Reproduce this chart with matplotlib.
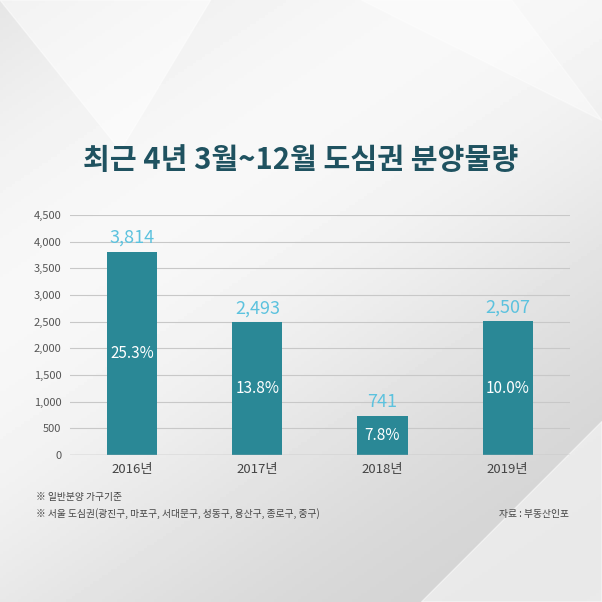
import matplotlib
matplotlib.use("Agg")
import matplotlib.pyplot as plt
import numpy as np

plt.rcParams['font.family'] = ['Noto Sans CJK KR', 'DejaVu Sans']

years = ["2016년", "2017년", "2018년", "2019년"]
values = [3814, 2493, 741, 2507]
shares = ["25.3%", "13.8%", "7.8%", "10.0%"]
yticks = [0, 500, 1000, 1500, 2000, 2500, 3000, 3500, 4000, 4500]

fig = plt.figure(figsize=(6.02, 6.02), dpi=100)
# background
bg = fig.add_axes([0, 0, 1, 1], zorder=-10)
g = np.linspace(0, 1, 200)
img = 0.90 + 0.07 * np.sin(np.add.outer(g * 3, g * 2))
bg.imshow(img, cmap='gray', vmin=0, vmax=1, extent=[0, 1, 0, 1], aspect='auto')
bg.fill([0, 0.35, 0.2], [1, 1, 0.75], color='white', alpha=0.5)
bg.fill([0.7, 1, 1], [0, 0.3, 0], color='white', alpha=0.5)
bg.fill([0.6, 1, 0.85], [1, 0.8, 1], color='white', alpha=0.4)
bg.set_xlim(0, 1); bg.set_ylim(0, 1); bg.axis('off')

ax = fig.add_axes([0.116, 0.244, 0.831, 0.399])
ax.set_facecolor('none')
x = np.arange(len(years))
ax.bar(x, values, width=0.4, color='#2a8896', zorder=3)
ax.set_ylim(0, 4500)
ax.set_xlim(-0.5, 3.5)
ax.set_yticks(yticks)
ax.set_yticklabels([f"{v:,}" for v in yticks], fontsize=8, color='#555555')
ax.set_xticks(x)
ax.set_xticklabels(years, fontsize=9.5, color='#444444')
ax.grid(axis='y', color='#c8c8c8', linewidth=0.8, zorder=0)
for s in ax.spines.values():
    s.set_visible(False)
ax.axhline(0, color='#bbbbbb', linewidth=1, zorder=4)
ax.tick_params(length=0, pad=6)
for xi, v, sh in zip(x, values, shares):
    ax.text(xi, v + 90, f"{v:,}", ha='center', va='bottom', fontsize=13, color='#5cc2de')
    ax.text(xi, v / 2, sh, ha='center', va='center', fontsize=11, color='white')

fig.text(0.5, 0.735, "최근 4년 3월~12월 도심권 분양물량", ha='center', va='center',
         fontsize=21, fontweight='bold', color='#1f5260')
fig.text(0.06, 0.170, "※ 일반분양 가구기준", fontsize=7, color='#444444')
fig.text(0.06, 0.142, "※ 서울 도심권(광진구, 마포구, 서대문구, 성동구, 용산구, 종로구, 중구)", fontsize=7, color='#444444')
fig.text(0.945, 0.142, "자료 : 부동산인포", fontsize=7, color='#444444', ha='right')

fig.savefig("out.png", dpi=100)
